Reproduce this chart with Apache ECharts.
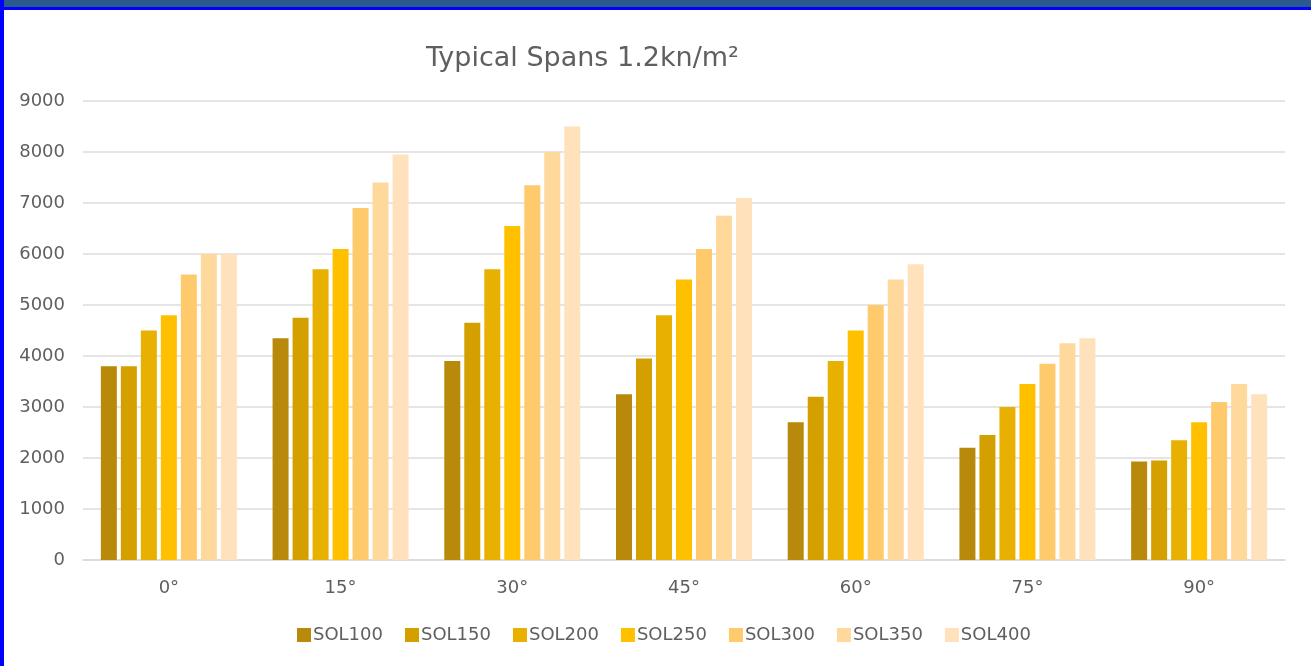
<!DOCTYPE html>
<html>
<head>
<meta charset="utf-8">
<script src="https://cdn.jsdelivr.net/npm/echarts@6/dist/echarts.min.js"></script>
<style>
  body { margin: 0; background: #fff; }
  #main { position: absolute; left: 0; top: 0; width: 1311px; height: 666px; }
  .bar { position: absolute; }
</style>
</head>
<body>
<div id="main"></div>
<div class="bar" style="left:0;top:0;width:1311px;height:7px;background:#2b5b8e"></div>
<div class="bar" style="left:0;top:7px;width:1311px;height:3px;background:#0000ff"></div>
<div class="bar" style="left:0;top:0;width:4px;height:666px;background:#0000ff"></div>
<script>
// 数据
const angles = ['0°', '15°', '30°', '45°', '60°', '75°', '90°'];
const seriesNames = ['SOL100', 'SOL150', 'SOL200', 'SOL250', 'SOL300', 'SOL350', 'SOL400'];
const sol100 = [3800, 4350, 3900, 3250, 2700, 2200, 1930];
const sol150 = [3800, 4750, 4650, 3950, 3200, 2450, 1950];
const sol200 = [4500, 5700, 5700, 4800, 3900, 3000, 2350];
const sol250 = [4800, 6100, 6550, 5500, 4500, 3450, 2700];
const sol300 = [5600, 6900, 7350, 6100, 5000, 3850, 3100];
const sol350 = [6000, 7400, 8000, 6750, 5500, 4250, 3450];
const sol400 = [6000, 7950, 8500, 7100, 5800, 4350, 3250];
const colors = ['#b8890a', '#d4a000', '#e8b000', '#ffc000', '#ffca6b', '#ffd89c', '#ffe2bc'];

window.addEventListener('load', function () {
    let chart = echarts.init(document.getElementById('main'));
    let allData = [sol100, sol150, sol200, sol250, sol300, sol350, sol400];
    let series = seriesNames.map(function (name, i) {
        return {
            name: name,
            type: 'bar',
            data: allData[i],
            barWidth: 16,
            barGap: '25%',
            itemStyle: { color: colors[i] }
        };
    });
    let option = {
        animation: false,
        color: colors,
        title: {
            text: 'Typical Spans 1.2kn/m²',
            left: 421,
            top: 40,
            textStyle: {
                fontFamily: 'DejaVu Sans',
                fontSize: 27,
                fontWeight: 'normal',
                color: '#5f5f5f'
            }
        },
        legend: {
            data: seriesNames,
            top: 621,
            left: 292,
            itemWidth: 14,
            itemHeight: 14,
            itemGap: 22,
            icon: 'rect',
            textStyle: {
                fontFamily: 'DejaVu Sans',
                fontSize: 18,
                color: '#5f5f5f',
                padding: [0, 0, 0, -3]
            }
        },
        grid: { left: 83, right: 26, top: 101, bottom: 106 },
        xAxis: {
            type: 'category',
            data: angles,
            axisLine: { lineStyle: { color: '#d9d9d9', width: 1.5 } },
            axisTick: { show: false },
            axisLabel: {
                margin: 19,
                fontFamily: 'DejaVu Sans',
                fontSize: 18,
                color: '#5f5f5f'
            }
        },
        yAxis: {
            type: 'value',
            min: 0,
            max: 9000,
            interval: 1000,
            axisLine: { show: false },
            axisTick: { show: false },
            splitLine: { lineStyle: { color: '#dcdcdc', width: 1.5 } },
            axisLabel: {
                margin: 18,
                fontFamily: 'DejaVu Sans',
                fontSize: 18,
                color: '#5f5f5f',
                formatter: function (v) { return String(v); }
            }
        },
        series: series
    };
    chart.setOption(option);
}, false);
</script>
</body>
</html>
